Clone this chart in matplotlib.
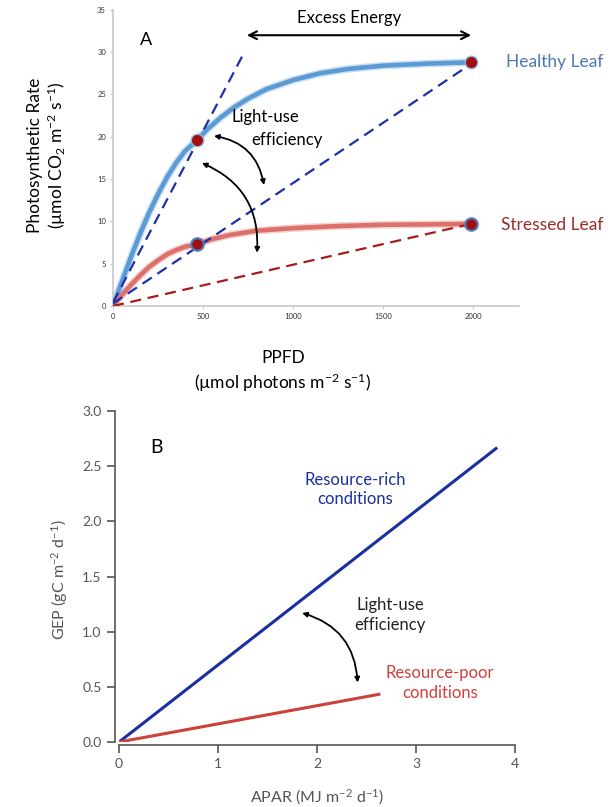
import numpy as np
import matplotlib
matplotlib.use("Agg")
import matplotlib.pyplot as plt
from matplotlib.patches import FancyArrowPatch

plt.rcParams['font.family'] = ['Lato', 'DejaVu Sans']
plt.rcParams['mathtext.fontset'] = 'custom'
plt.rcParams['mathtext.rm'] = 'Lato'
plt.rcParams['mathtext.it'] = 'Lato:italic'

# ---- panel A data ----
ppfd_healthy = [0, 50, 100, 150, 200, 250, 300, 350, 400, 467, 525, 600, 675, 750,
                850, 1000, 1150, 1300, 1500, 1750, 1989]
rate_healthy = [0, 2.9, 5.8, 8.5, 11.0, 13.2, 15.2, 16.9, 18.3, 19.6, 20.9, 22.3, 23.5, 24.5,
                25.6, 26.7, 27.5, 28.0, 28.4, 28.65, 28.8]
ppfd_stressed = [0, 50, 100, 150, 200, 250, 300, 350, 400, 467, 550, 650, 800, 1000,
                 1250, 1500, 1750, 1989]
rate_stressed = [0, 1.3, 2.5, 3.6, 4.6, 5.4, 6.1, 6.6, 7.0, 7.3, 7.9, 8.4, 8.9, 9.2,
                 9.45, 9.6, 9.65, 9.7]
lue_steep_x = [0, 730]
lue_steep_y = [0.4, 30.0]
lue_healthy_x = [0, 1989]
lue_healthy_y = [0.3, 28.6]
lue_stressed_x = [0, 1989]
lue_stressed_y = [0, 9.7]
pts_red_x = [467, 1989]
pts_red_y = [19.6, 28.8]
pts_blue_edge_x = [467, 1989]
pts_blue_edge_y = [7.3, 9.7]
a_xticks = [0, 500, 1000, 1500, 2000]
a_yticks = [0, 5, 10, 15, 20, 25, 30, 35]

# ---- panel B data ----
apar_rich = [0, 3.82]
gep_rich = [0, 2.67]
apar_poor = [0, 2.64]
gep_poor = [0, 0.435]
b_xticks = [0, 1, 2, 3, 4]
b_yticks = [0.0, 0.5, 1.0, 1.5, 2.0, 2.5, 3.0]

fig = plt.figure(figsize=(6.14, 8.07), dpi=100)

# ================= Panel A =================
axA = fig.add_axes([0.184, 0.6208, 0.661, 0.367])
axA.set_xlim(0, 2255)
axA.set_ylim(0, 35)

axA.plot(ppfd_healthy, rate_healthy, color='#5b9bd5', lw=5.5, alpha=0.3,
         solid_capstyle='round', solid_joinstyle='round', zorder=2)
axA.plot(ppfd_healthy, rate_healthy, color='#5b9bd5', lw=3.3,
         solid_capstyle='round', solid_joinstyle='round', zorder=3)
axA.plot(ppfd_stressed, rate_stressed, color='#dc706b', lw=5.5, alpha=0.3,
         solid_capstyle='round', solid_joinstyle='round', zorder=2)
axA.plot(ppfd_stressed, rate_stressed, color='#dc706b', lw=3.3,
         solid_capstyle='round', solid_joinstyle='round', zorder=3)

axA.plot(lue_steep_x, lue_steep_y, color='#1f2fa8', lw=1.6, ls=(0, (5, 3)), zorder=4)
axA.plot(lue_healthy_x, lue_healthy_y, color='#1f2fa8', lw=1.6, ls=(0, (5, 3)), zorder=4)
axA.plot(lue_stressed_x, lue_stressed_y, color='#a51d1d', lw=1.6, ls=(0, (5, 3)), zorder=4)

axA.plot(pts_red_x, pts_red_y, 'o', ms=9, color='#a01010', mec='#8fb8e0', mew=1, zorder=5)
axA.plot(pts_blue_edge_x, pts_blue_edge_y, 'o', ms=9, color='#a01010', mec='#4a7fc0', mew=1.5, zorder=5)

for s in ['top', 'right']:
    axA.spines[s].set_visible(False)
for s in ['left', 'bottom']:
    axA.spines[s].set_color('#c8c8c8')
    axA.spines[s].set_linewidth(1.2)
axA.set_xticks(a_xticks)
axA.set_yticks(a_yticks)
axA.tick_params(labelsize=5.5, length=2, color='#c8c8c8', labelcolor='#333333', pad=3)

axA.text(183, 31.4, 'A', fontsize=13, ha='center', va='center')
axA.annotate('', xy=(744, 32.0), xytext=(1990, 32.0),
             arrowprops=dict(arrowstyle='<->', color='black', lw=1.5, mutation_scale=14,
                             shrinkA=0, shrinkB=0))
axA.text(1311, 34.0, 'Excess Energy', fontsize=12, ha='center', va='center', clip_on=False)
axA.text(661, 22.3, 'Light-use', fontsize=12, ha='left', va='center')
axA.text(767, 19.6, 'efficiency', fontsize=12, ha='left', va='center')

for (x0, y0), (x1, y1) in [((561, 20.1), (839, 14.3)), ((494, 16.9), (800, 6.3))]:
    axA.add_patch(FancyArrowPatch((x0, y0), (x1, y1), connectionstyle='arc3,rad=-0.35',
                                  arrowstyle='<|-|>', mutation_scale=7, color='black',
                                  lw=1.3, shrinkA=0, shrinkB=0, zorder=6))

axA.text(2185, 28.8, 'Healthy Leaf', fontsize=12.5, color='#4a78b0', ha='left', va='center', clip_on=False)
axA.text(2155, 9.6, 'Stressed Leaf', fontsize=12.5, color='#9b2b2b', ha='left', va='center', clip_on=False)

fig.text(35 / 614, 1 - 155 / 807, 'Photosynthetic Rate', rotation=90, fontsize=12.5,
         ha='center', va='center')
fig.text(57 / 614, 1 - 155 / 807, r'(µmol CO$_2$ m$^{-2}$ s$^{-1}$)', rotation=90, fontsize=12.5,
         ha='center', va='center')
fig.text(283 / 614, 1 - 358 / 807, 'PPFD', fontsize=12.5, ha='center', va='center')
fig.text(283 / 614, 1 - 383 / 807, r'(µmol photons m$^{-2}$ s$^{-1}$)', fontsize=12.5,
         ha='center', va='center')

# ================= Panel B =================
axB = fig.add_axes([0.1938, 0.0805, 0.645, 0.410])
axB.set_xlim(0, 4)
axB.set_ylim(0, 3)

axB.plot(apar_rich, gep_rich, color='#1a2fa0', lw=2.2, solid_capstyle='butt')
axB.plot(apar_poor, gep_poor, color='#d0403a', lw=2.2, solid_capstyle='butt')

for s in ['top', 'right']:
    axB.spines[s].set_visible(False)
for s in ['left', 'bottom']:
    axB.spines[s].set_color('#555555')
    axB.spines[s].set_linewidth(1.2)
axB.spines['left'].set_position(('outward', 3))
axB.spines['bottom'].set_position(('outward', 2))
axB.set_xticks(b_xticks)
axB.set_yticks(b_yticks)
axB.set_yticklabels([f'{v:.1f}' for v in b_yticks])
axB.tick_params(labelsize=10, length=6, width=1.2, color='#555555', labelcolor='#555555')

axB.text(0.38, 2.67, 'B', fontsize=14, ha='center', va='center')
axB.text(2.39, 2.29, 'Resource-rich\nconditions', fontsize=12, color='#1a2fa0',
         ha='center', va='center', linespacing=1.3)
axB.text(2.74, 1.15, 'Light-use\nefficiency', fontsize=12, color='#222222',
         ha='center', va='center', linespacing=1.3)
axB.text(3.24, 0.535, 'Resource-poor\nconditions', fontsize=12, color='#d0403a',
         ha='center', va='center', linespacing=1.3)
axB.add_patch(FancyArrowPatch((1.85, 1.17), (2.41, 0.54), connectionstyle='arc3,rad=-0.35',
                              arrowstyle='<|-|>', mutation_scale=7, color='black',
                              lw=1.3, shrinkA=0, shrinkB=0))

fig.text(60 / 614, 1 - 580 / 807, r'GEP (gC m$^{-2}$ d$^{-1}$)', rotation=90, fontsize=11.5,
         color='#555555', ha='center', va='center')
fig.text(317 / 614, 1 - 797 / 807, r'APAR (MJ m$^{-2}$ d$^{-1}$)', fontsize=11.5,
         color='#555555', ha='center', va='center')

fig.savefig('out.png', dpi=100)
